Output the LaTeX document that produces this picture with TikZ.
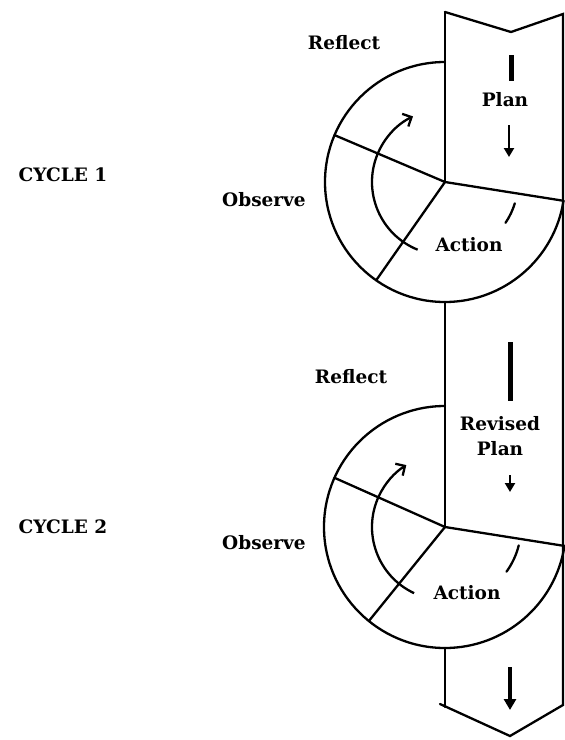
\documentclass[tikz,border=0pt]{standalone}
\usepackage{fontspec}
\setmainfont{DejaVu Serif}
\usetikzlibrary{arrows.meta}
\begin{document}
\begin{tikzpicture}[x=1pt,y=1pt,
  edge/.style={line width=2.3pt, line join=miter, line cap=round},
  lbl/.style={font=\bfseries\fontsize{18.5}{25}\selectfont, inner sep=0pt, align=center},
  thickbar/.style={line width=5pt},
  downarrow/.style={line width=2.3pt,-{Triangle[length=9pt,width=10pt]}},
  bigarrow/.style={line width=3.2pt,-{Triangle[length=11pt,width=12pt]}},
  cyc/.style={line width=2.3pt,-{Straight Barb[length=7pt,width=14pt,line width=2.3pt]}}]
\useasboundingbox (0,0) rectangle (565,-740);
\fill[white] (0,0) rectangle (565,-740);

% key points
\coordinate (c1) at (445,-182);
\coordinate (c2) at (445,-527);
\coordinate (tl) at (445,-12);
\coordinate (tn) at (511,-32);
\coordinate (tr) at (563,-14);
\coordinate (br) at (563,-705);
\coordinate (bn) at (510,-736);
\coordinate (bl) at (440,-704);
\coordinate (blv) at (445,-707);
\coordinate (b1) at (445,-302);
\coordinate (t2) at (445,-406);
\coordinate (b2) at (445,-648);

% band outline
\draw[edge] (tl) -- (tn) -- (tr) -- (br) -- (bn) -- (bl);
\draw[edge] (tl) -- (c1);
\draw[edge] (b1) -- (t2);
\draw[edge] (t2) -- (c2);
\draw[edge] (b2) -- (blv);

% cycle 1 circle
\draw[edge] (c1) ++(90:120) arc[start angle=90,end angle=351,radius=120] coordinate (e1);
\draw[edge] (c1) -- (e1);
\draw[edge] (c1) -- ++(157:120);
\draw[edge] (c1) -- ++(235:120);
\draw[cyc] (c1) ++(-112:73) arc[start angle=-112,end angle=-244,radius=73];
\draw[edge] (c1) ++(-17:73) arc[start angle=-17,end angle=-34,radius=73];

% cycle 2 circle
\draw[edge] (c2) ++(90:121) arc[start angle=90,end angle=351,radius=121] coordinate (e2);
\draw[edge] (c2) -- (e2);
\draw[edge] (c2) -- ++(156:121);
\draw[edge] (c2) -- ++(231:121);
\draw[cyc] (c2) ++(-115:73) arc[start angle=-115,end angle=-238,radius=73];
\draw[edge] (c2) ++(-14:76) arc[start angle=-14,end angle=-36,radius=76];

% bars and arrows in the band
\coordinate (bar1a) at (511,-55);
\coordinate (bar1b) at (511,-81);
\draw[thickbar] (bar1a) -- (bar1b);
\coordinate (ar1a) at (509,-125);
\coordinate (ar1b) at (509,-157);
\draw[downarrow] (ar1a) -- (ar1b);
\coordinate (bar2a) at (510,-342);
\coordinate (bar2b) at (510,-401);
\draw[thickbar] (bar2a) -- (bar2b);
\coordinate (ar2a) at (510,-475);
\coordinate (ar2b) at (510,-492);
\draw[downarrow] (ar2a) -- (ar2b);
\coordinate (ar3a) at (510,-667);
\coordinate (ar3b) at (510,-710);
\draw[bigarrow] (ar3a) -- (ar3b);

% labels
\node[lbl] (reflect1) at (344,-43) {Reflect};
\node[lbl] (plan1) at (505,-100) {Plan};
\node[lbl] (action1) at (469,-245) {Action};
\node[lbl] (observe1) at (264,-200) {Observe};
\node[lbl] (cycle1) at (63,-175) {CYCLE 1};
\node[lbl] (reflect2) at (351,-377) {Reflect};
\node[lbl] (plan2) at (500,-436) {Revised\\Plan};
\node[lbl] (action2) at (467,-593) {Action};
\node[lbl] (observe2) at (264,-543) {Observe};
\node[lbl] (cycle2) at (63,-527) {CYCLE 2};
\end{tikzpicture}
\end{document}
